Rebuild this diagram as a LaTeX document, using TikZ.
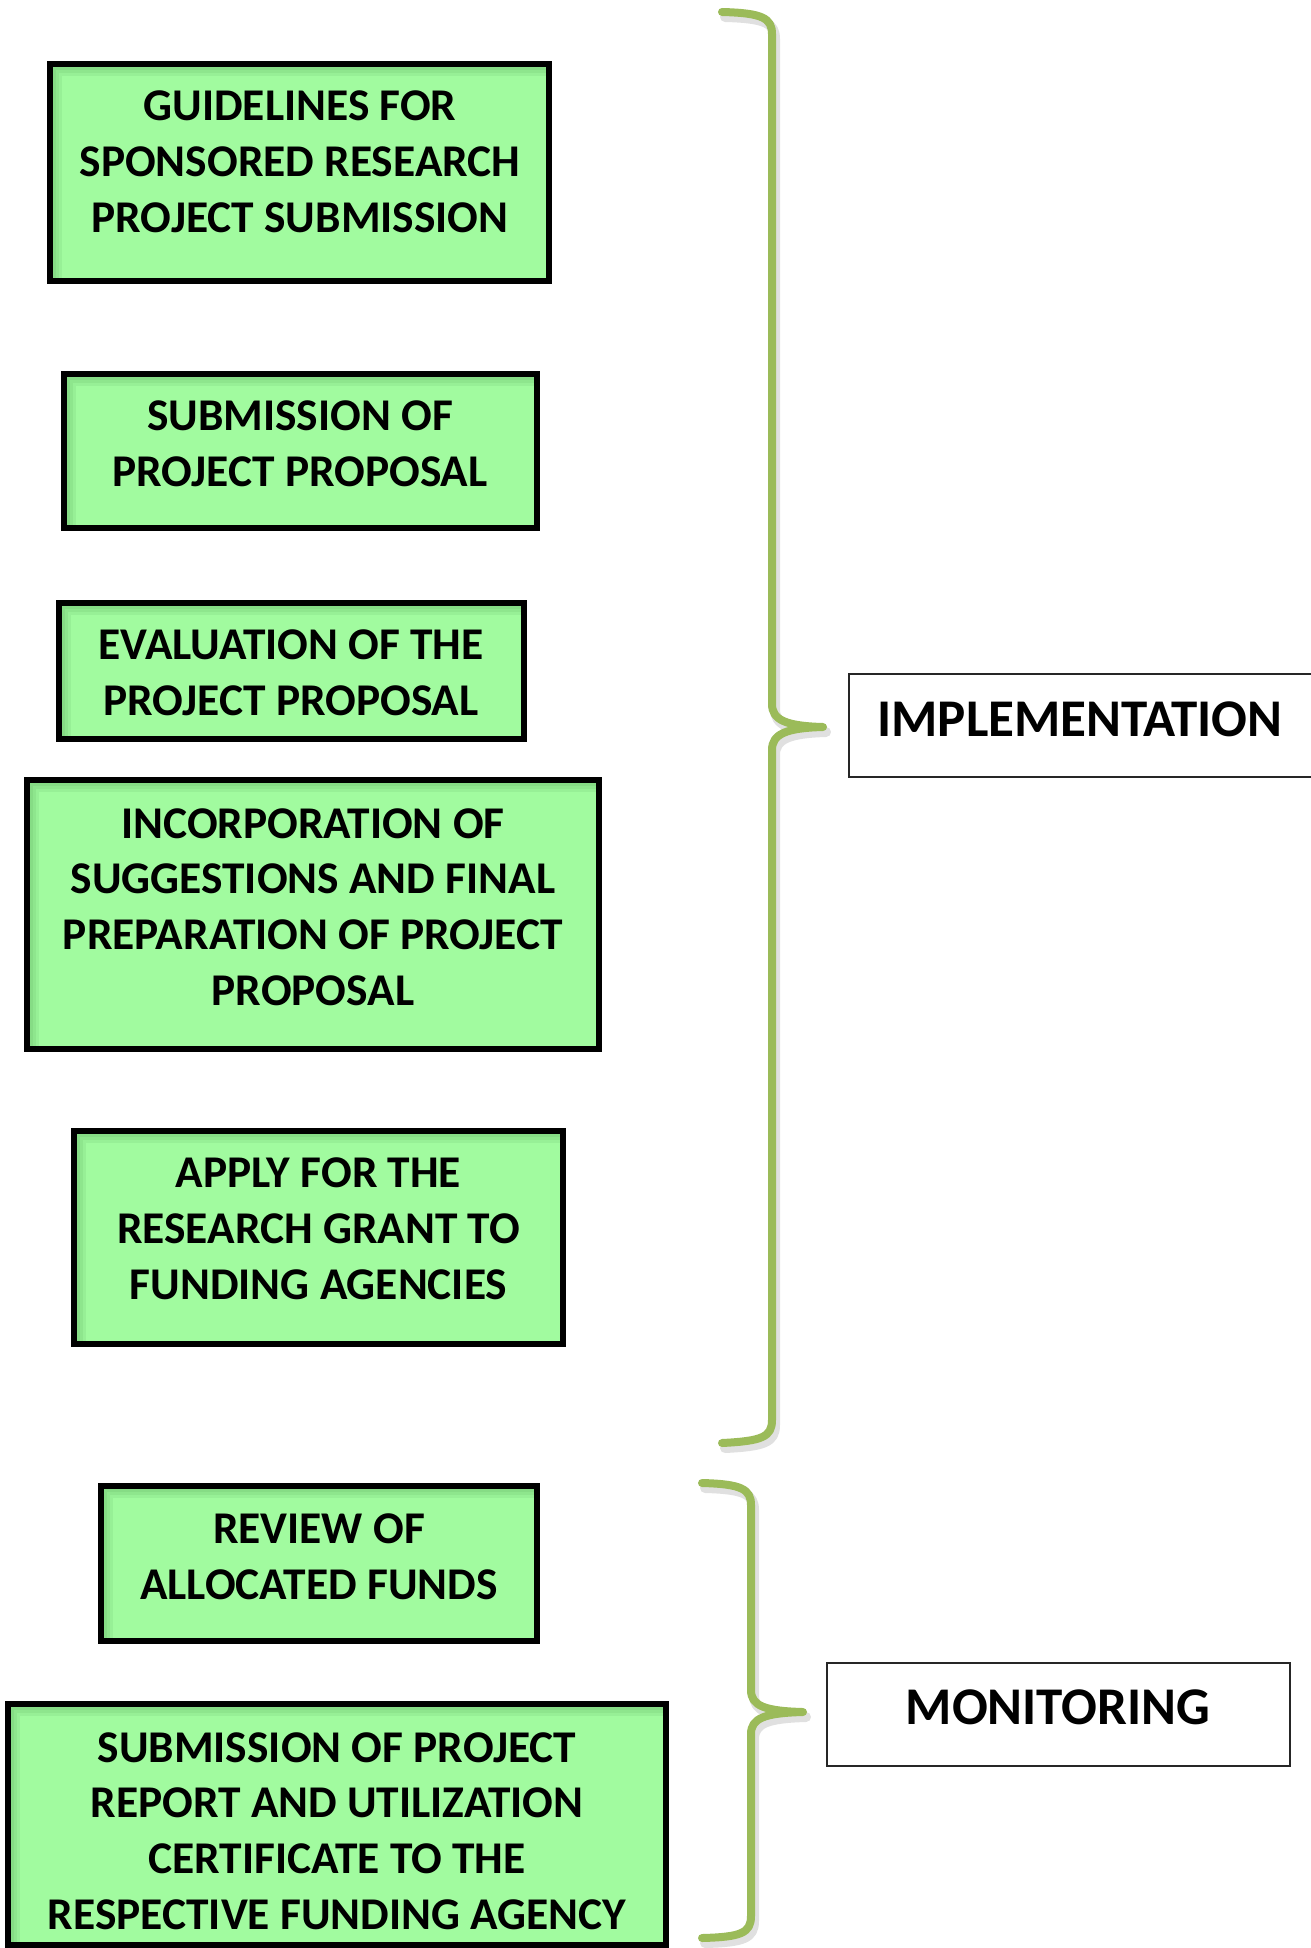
\documentclass[tikz,border=0pt]{standalone}
\usepackage{fontspec}
\setmainfont{Carlito}
\usetikzlibrary{positioning}
\definecolor{boxgreen}{RGB}{161,251,159}
\definecolor{boxshade}{RGB}{60,130,60}
\definecolor{bracegreen}{RGB}{155,187,89}

\begin{document}
\begin{tikzpicture}[x=0.5pt,y=-0.5pt,
   stagebox/.style={draw=black,line width=3pt,fill=boxgreen,inner sep=0pt,
      path picture={\foreach \w in {3,6,9,12}
         \draw[boxshade,opacity=0.09,line width=\w pt]
            (path picture bounding box.south west) -- (path picture bounding box.north west)
            -- (path picture bounding box.north east);}},
   stagetext/.style={align=center,inner sep=0pt,font=\fontsize{22.7}{27.9}\selectfont\bfseries},
   phasebox/.style={draw=black!85,line width=0.7pt,fill=white,inner sep=0pt},
   phasetext/.style={inner sep=0pt,font=\fontsize{26.5}{32}\selectfont\bfseries},
   bracket/.style={draw=bracegreen,line width=4pt,line cap=round,line join=round},
   bshadow/.style={draw=black,opacity=0.12,line width=5pt,line cap=round,line join=round}]
   \useasboundingbox (0,0) rectangle (1311,1948);

   % steps
   \node[stagebox,minimum width=249.5pt,minimum height=108.5pt] (guide) at (299.5,172.5) {};
   \node[stagetext] (guidetxt) at (300,162) {GUIDELINES FOR\\SPONSORED RESEARCH\\PROJECT SUBMISSION};
   \node[stagebox,minimum width=236.5pt,minimum height=77pt] (submit) at (300,451) {};
   \node[stagetext] (submittxt) at (300,444) {SUBMISSION OF\\PROJECT PROPOSAL};
   \node[stagebox,minimum width=232.5pt,minimum height=68pt] (eval) at (291,671) {};
   \node[stagetext] (evaltxt) at (291,673) {EVALUATION OF THE\\PROJECT PROPOSAL};
   \node[stagebox,minimum width=286pt,minimum height=134.5pt] (incorp) at (313,914.5) {};
   \node[stagetext] (incorptxt) at (313,907) {INCORPORATION OF\\SUGGESTIONS AND FINAL\\PREPARATION OF PROJECT\\PROPOSAL};
   \node[stagebox,minimum width=244.5pt,minimum height=106.5pt] (apply) at (318.5,1237.5) {};
   \node[stagetext] (applytxt) at (318.5,1229) {APPLY FOR THE\\RESEARCH GRANT TO\\FUNDING AGENCIES};
   \node[stagebox,minimum width=218pt,minimum height=77.5pt] (review) at (319,1563.5) {};
   \node[stagetext] (reviewtxt) at (319,1557) {REVIEW OF\\ALLOCATED FUNDS};
   \node[stagebox,minimum width=329pt,minimum height=120.5pt] (report) at (337,1824.5) {};
   \node[stagetext] (reporttxt) at (337,1831) {SUBMISSION OF PROJECT\\REPORT AND UTILIZATION\\CERTIFICATE TO THE\\RESPECTIVE FUNDING AGENCY};

   % phases
   \node[phasebox,minimum width=232pt,minimum height=51.5pt] (impl) at (1081,725.5) {};
   \node[phasetext] (impltxt) at (1080,719.5) {IMPLEMENTATION};
   \node[phasebox,minimum width=231.5pt,minimum height=51.5pt] (mon) at (1058.5,1714.5) {};
   \node[phasetext] (montxt) at (1058,1707.5) {MONITORING};

   % braces
   \foreach \sty/\dx/\dy in {bshadow/3/5,bracket/0/0} {
      \draw[\sty,shift={(\dx,\dy)}] (722,12) .. controls (762,13) and (772,18) .. (772,34)
         -- (772,704) .. controls (772,720) and (786,726) .. (823,727)
         .. controls (786,728) and (772,734) .. (772,750)
         -- (772,1420) .. controls (772,1437) and (762,1441) .. (722,1443);
      \draw[\sty,shift={(\dx,\dy)}] (702,1483) .. controls (741,1484) and (751,1489) .. (751,1505)
         -- (751,1690) .. controls (751,1706) and (765,1711) .. (803,1712)
         .. controls (765,1713) and (751,1718) .. (751,1734)
         -- (751,1916) .. controls (751,1933) and (741,1937) .. (702,1938);
   }
\end{tikzpicture}
\end{document}
